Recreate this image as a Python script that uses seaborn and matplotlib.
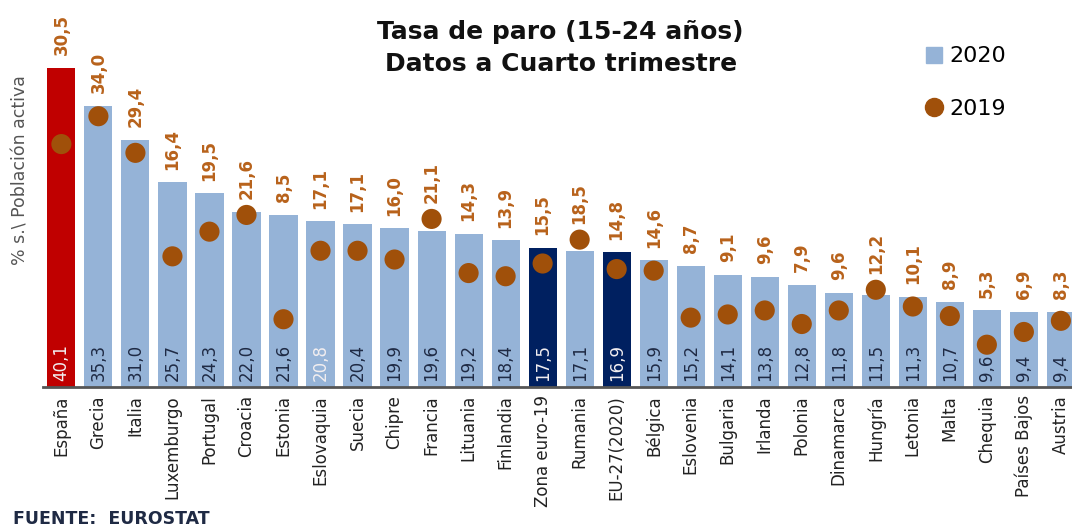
import matplotlib
matplotlib.use('Agg')
import matplotlib.pyplot as plt
import seaborn as sns
from matplotlib.lines import Line2D

# datos: tasa de paro 15-24 años, cuarto trimestre
paises = ['España', 'Grecia', 'Italia', 'Luxemburgo', 'Portugal', 'Croacia', 'Estonia',
          'Eslovaquia', 'Suecia', 'Chipre', 'Francia', 'Lituania', 'Finlandia',
          'Zona euro-19', 'Rumania', 'EU-27(2020)', 'Bélgica', 'Eslovenia', 'Bulgaria',
          'Irlanda', 'Polonia', 'Dinamarca', 'Hungría', 'Letonia', 'Malta', 'Chequia',
          'Países Bajos', 'Austria']
paro_2020 = [40.1, 35.3, 31.0, 25.7, 24.3, 22.0, 21.6, 20.8, 20.4, 19.9, 19.6, 19.2, 18.4,
             17.5, 17.1, 16.9, 15.9, 15.2, 14.1, 13.8, 12.8, 11.8, 11.5, 11.3, 10.7, 9.6,
             9.4, 9.4]
paro_2019 = [30.5, 34.0, 29.4, 16.4, 19.5, 21.6, 8.5, 17.1, 17.1, 16.0, 21.1, 14.3, 13.9,
             15.5, 18.5, 14.8, 14.6, 8.7, 9.1, 9.6, 7.9, 9.6, 12.2, 10.1, 8.9, 5.3,
             6.9, 8.3]

azul = '#95B3D7'
rojo = '#C00000'
marino = '#002060'
marron = '#A0500A'
naranja = '#B8621B'

colores = []
for p in paises:
    if p == 'España':
        colores.append(rojo)
    elif p in ('Zona euro-19', 'EU-27(2020)'):
        colores.append(marino)
    else:
        colores.append(azul)

fig = plt.figure(figsize=(10.72, 5.30), dpi=100)
ax = fig.add_axes([0.040, 0.270, 0.960, 0.721])

sns.barplot(x=paises, y=paro_2020, hue=paises, palette=colores, legend=False,
            width=0.76, saturation=1, ax=ax)
sns.scatterplot(x=paises, y=paro_2019, color=marron, s=210, edgecolor='none', ax=ax, zorder=3)

ax.set_xlim(-0.5, 27.3)
ax.set_ylim(0, 48)

# etiquetas dentro de la barra (2020)
for i, v in enumerate(paro_2020):
    c = '#1F2A44'
    if colores[i] != azul or paises[i] == 'Eslovaquia':
        c = '#F2EEF0'
    ax.text(i, 0.8, f'{v:.1f}'.replace('.', ','), rotation=90, ha='center', va='bottom',
            fontsize=12, color=c)

# etiquetas encima (2019)
for i, v in enumerate(paro_2019):
    if v > paro_2020[i]:
        y = v + 2.0
    else:
        y = paro_2020[i] + 1.6
    ax.text(i, y, f'{v:.1f}'.replace('.', ','), rotation=90, ha='center', va='bottom',
            fontsize=12, color=naranja, fontweight='bold')

for s in ['top', 'right', 'left']:
    ax.spines[s].set_visible(False)
ax.spines['bottom'].set_color('#555555')
ax.spines['bottom'].set_linewidth(2)
ax.set_yticks([])
ax.set_ylabel('')
ax.tick_params(axis='x', length=0, pad=6)
ax.set_xticks(range(len(paises)))
ax.set_xticklabels(paises, rotation=90, fontsize=12, color='#222222')

fig.text(0.523, 0.962, 'Tasa de paro (15-24 años)\nDatos a Cuarto trimestre', ha='center',
         va='top', fontsize=18, fontweight='bold', color='#111111', linespacing=1.4)
fig.text(0.019, 0.68, '% s.\\ Población activa', rotation=90, ha='center', va='center',
         fontsize=12.5, color='#555555')
fig.text(0.012, 0.003, 'FUENTE:  EUROSTAT', ha='left', va='bottom', fontsize=12.5,
         fontweight='bold', color='#1F2A44')

handles = [Line2D([], [], marker='s', linestyle='none', color=azul, markersize=11),
           Line2D([], [], marker='o', linestyle='none', color=marron, markersize=13)]
fig.legend(handles, ['2020', '2019'], loc='upper left', bbox_to_anchor=(0.84, 0.95),
           frameon=False, fontsize=16, labelspacing=1.45, handletextpad=0.1, handlelength=1.2)

fig.savefig('out.png', dpi=100)
